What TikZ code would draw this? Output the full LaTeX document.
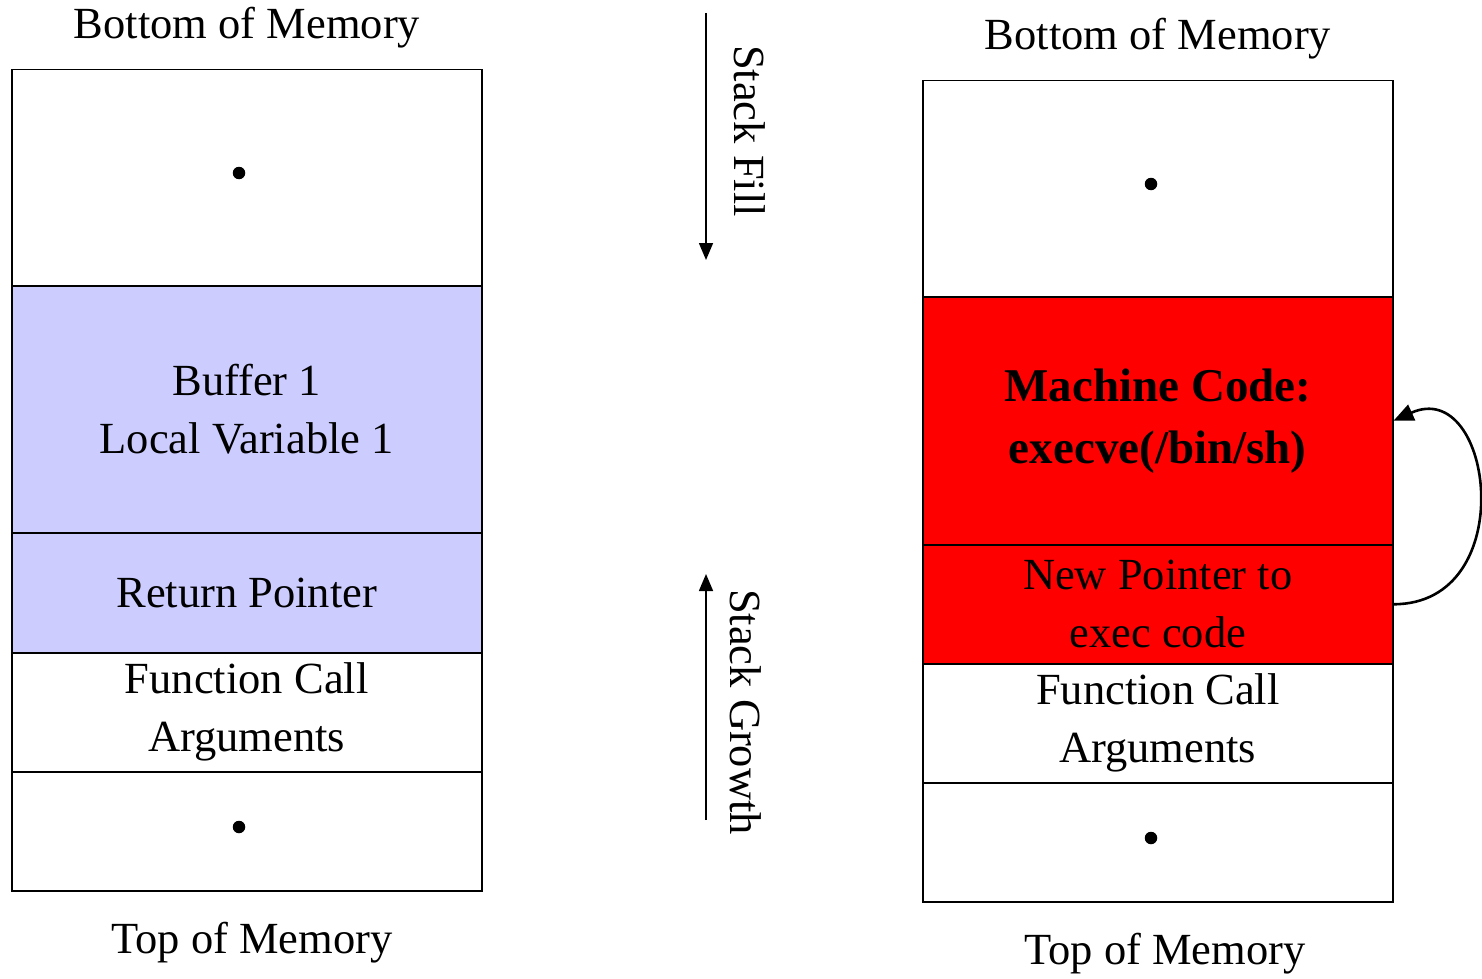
\documentclass[tikz,border=0pt]{standalone}
\usepackage{fontspec}
\setmainfont{Liberation Serif}
\usetikzlibrary{arrows.meta}
\definecolor{bufblue}{HTML}{CCCCFF}
\definecolor{hotred}{HTML}{FF0000}
\tikzset{
  cell/.style={draw=black, line width=1.5pt, rectangle, inner sep=0pt, anchor=north west,
    minimum width=470pt, align=center, font=\fontsize{44.5}{58}\selectfont},
  boldcell/.style={cell, font=\fontsize{47}{62}\selectfont\bfseries},
  lbl/.style={font=\fontsize{44.5}{50}\selectfont, inner sep=0pt},
  memdot/.style={circle, fill=black, inner sep=0pt, minimum size=12.5pt},
  arr/.style={line width=1.6pt, -{Triangle[length=17pt,width=14pt]}},
  curvarr/.style={line width=2.6pt, -{Triangle[length=20pt,width=17pt]}}
}
\begin{document}
\begin{tikzpicture}[x=1pt,y=-1pt]
\useasboundingbox (0,0) rectangle (1482,979);
% left stack
\node[lbl] (lbot) at (247,28) {Bottom of Memory};
\node[cell, minimum height=216pt] (l1) at (11,69) {};
\node[cell, fill=bufblue, minimum height=247pt] (l2) at (11,285) {Buffer 1\\Local Variable 1};
\node[cell, fill=bufblue, minimum height=120pt] (l3) at (11,532) {Return Pointer};
\node[cell, minimum height=119pt] (l4) at (11,652) {Function Call\\Arguments};
\node[cell, minimum height=119pt] (l5) at (11,771) {};
\node[memdot] (ld1) at (239,173) {};
\node[memdot] (ld2) at (239,827) {};
\node[lbl] (ltop) at (252,943) {Top of Memory};
% right stack
\node[lbl] (rbot) at (1158,39) {Bottom of Memory};
\node[cell, minimum height=216pt] (r1) at (922,80) {};
\node[boldcell, fill=hotred, minimum height=248pt] (r2) at (922,296) {Machine Code:\\execve(/bin/sh)};
\node[cell, fill=hotred, minimum height=119pt] (r3) at (922,544) {New Pointer to\\exec code};
\node[cell, minimum height=119pt] (r4) at (922,663) {Function Call\\Arguments};
\node[cell, minimum height=119pt] (r5) at (922,782) {};
\node[memdot] (rd1) at (1151,184) {};
\node[memdot] (rd2) at (1151,838) {};
\node[lbl] (rtop) at (1165,954) {Top of Memory};
% stack arrows
\coordinate (fa) at (706,13);
\coordinate (fb) at (706,260);
\draw[arr] (fa) -- (fb);
\node[lbl, rotate=-90] (fill) at (750,131) {Stack Fill};
\coordinate (ga) at (706,820);
\coordinate (gb) at (706,574);
\draw[arr] (ga) -- (gb);
\node[lbl, rotate=-90] (growth) at (746,712) {Stack Growth};
% curved arrow
\draw[curvarr] (r3.east) .. controls +(128,0) and +(100,-45) .. (r2.east);
\end{tikzpicture}
\end{document}
